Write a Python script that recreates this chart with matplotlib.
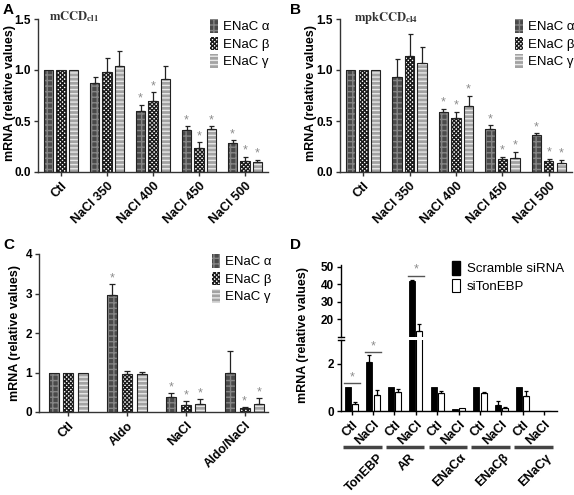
import matplotlib
matplotlib.use("Agg")
import matplotlib.pyplot as plt
from matplotlib.patches import Patch
from matplotlib.lines import Line2D
import numpy as np

plt.rcParams['font.family'] = ['Liberation Sans', 'DejaVu Sans']
plt.rcParams['font.weight'] = 'bold'
plt.rcParams['hatch.linewidth'] = 1.0
plt.rcParams['mathtext.fontset'] = 'stix'

# ---------------- data ----------------
cats_A = ['Ctl', 'NaCl 350', 'NaCl 400', 'NaCl 450', 'NaCl 500']
A_alpha = [1.0, 0.87, 0.60, 0.41, 0.28]
A_alpha_err = [0, 0.06, 0.06, 0.04, 0.03]
A_beta = [1.0, 0.98, 0.70, 0.24, 0.11]
A_beta_err = [0, 0.14, 0.08, 0.05, 0.04]
A_gamma = [1.0, 1.04, 0.91, 0.42, 0.10]
A_gamma_err = [0, 0.15, 0.13, 0.03, 0.02]
A_star_alpha = [0, 0, 1, 1, 1]
A_star_beta = [0, 0, 1, 1, 1]
A_star_gamma = [0, 0, 0, 1, 1]

cats_B = ['Ctl', 'NaCl 350', 'NaCl 400', 'NaCl 450', 'NaCl 500']
B_alpha = [1.0, 0.93, 0.59, 0.42, 0.36]
B_alpha_err = [0, 0.18, 0.03, 0.04, 0.02]
B_beta = [1.0, 1.14, 0.53, 0.13, 0.11]
B_beta_err = [0, 0.21, 0.06, 0.02, 0.02]
B_gamma = [1.0, 1.07, 0.65, 0.14, 0.09]
B_gamma_err = [0, 0.16, 0.10, 0.06, 0.03]
B_star_alpha = [0, 0, 1, 1, 1]
B_star_beta = [0, 0, 1, 1, 1]
B_star_gamma = [0, 0, 1, 1, 1]

cats_C = ['Ctl', 'Aldo', 'NaCl', 'Aldo/NaCl']
C_alpha = [1.0, 2.97, 0.38, 1.0]
C_alpha_err = [0, 0.26, 0.09, 0.55]
C_beta = [1.0, 0.97, 0.17, 0.09]
C_beta_err = [0, 0.08, 0.10, 0.03]
C_gamma = [1.0, 0.97, 0.20, 0.19]
C_gamma_err = [0, 0.04, 0.13, 0.16]
C_star_alpha = [0, 1, 1, 0]
C_star_beta = [0, 0, 1, 1]
C_star_gamma = [0, 0, 1, 1]

genes_D = ['TonEBP', 'AR', 'ENaC\u03b1', 'ENaC\u03b2', 'ENaC\u03b3']
conds_D = ['Ctl', 'NaCl']
D_scramble = [1.0, 2.10, 1.0, 42.0, 1.0, 0.10, 1.0, 0.25, 1.0, 0.02]
D_scramble_err = [0, 0.28, 0, 0.5, 0, 0, 0, 0.17, 0, 0]
D_si = [0.30, 0.70, 0.80, 13.2, 0.78, 0.13, 0.75, 0.13, 0.65, 0.02]
D_si_err = [0.10, 0.18, 0.12, 4.3, 0.07, 0.0, 0.07, 0.03, 0.20, 0]
D_bracket_idx = [0, 1, 3]
D_bracket_y = [1.18, 2.50, 45.0]

series_labels = ['ENaC \u03b1', 'ENaC \u03b2', 'ENaC \u03b3']

# ---------------- styles ----------------
STY = [
    dict(face='#4a4a4a', hatch='+++', hcol='#858585'),
    dict(face='#ffffff', hatch='xxxxxxxx', hcol='#1a1a1a'),
    dict(face='#a3a3a3', hatch='----', hcol='#e8e8e8'),
]
STAR_COL = '#8c8c8c'
FS = 9
FSY = 8.5

W, H = 574, 495
fig = plt.figure(figsize=(W / 100, H / 100), dpi=100)


def px_axes(l, t, r, b):
    return fig.add_axes([l / W, 1 - b / H, (r - l) / W, (b - t) / H])


def style_ax(ax):
    for s in ['top', 'right']:
        ax.spines[s].set_visible(False)
    for s in ['left', 'bottom']:
        ax.spines[s].set_linewidth(1.0)
        ax.spines[s].set_color('#333333')
    ax.tick_params(direction='out', length=3, width=1, color='#333333', pad=2.5)
    ax.tick_params(axis='y', pad=2)


def draw_bar(ax, x, h, w, st):
    ax.bar(x, h, w, color=st['face'], edgecolor=st['hcol'], hatch=st['hatch'], linewidth=0)
    ax.bar(x, h, w, fill=False, edgecolor='#222222', linewidth=0.8)


def set_ylabel_px(ax, xpx, ycenter_px, l, t, r, b):
    ax.set_ylabel('mRNA (relative values)', fontweight='bold', fontsize=9)
    ax.yaxis.set_label_coords((xpx - l) / (r - l), (b - ycenter_px) / (b - t))


def grouped(ax, cats, vals, errs, stars, width, offset, ylim, yticks, yfmt, cap):
    x = np.arange(len(cats))
    for i, (v, e, s) in enumerate(zip(vals, errs, stars)):
        xi = x + (i - 1) * offset
        draw_bar(ax, xi, v, width, STY[i])
        v = np.array(v); e = np.array(e)
        m = e > 0
        ax.errorbar(xi[m], v[m], yerr=[np.zeros(m.sum()), e[m]], fmt='none',
                    ecolor='#222222', elinewidth=0.9, capsize=cap, capthick=0.9)
        for xx, top, flag in zip(xi, v + e, s):
            if flag:
                ax.annotate('*', (xx, top), xytext=(0, 0), textcoords='offset points',
                            ha='center', va='bottom', color=STAR_COL, fontsize=9,
                            fontweight='normal')
    ax.set_ylim(*ylim)
    ax.set_yticks(yticks)
    ax.set_yticklabels([yfmt.format(t) for t in yticks], fontweight='bold', fontsize=FSY)
    ax.set_xticks(x)
    ax.set_xticklabels(cats, rotation=45, ha='right', rotation_mode='anchor',
                       fontweight='bold', fontsize=FS)
    style_ax(ax)


def legend(ax, xpx, ypx):
    handles = [Patch(facecolor=st['face'], edgecolor=st['hcol'], hatch=st['hatch'],
                     linewidth=0) for st in STY]
    return ax.legend(handles, series_labels, loc='upper left',
                     bbox_to_anchor=(xpx / W, 1 - ypx / H), bbox_transform=fig.transFigure,
                     frameon=False, handlelength=0.6, handleheight=1.2, handletextpad=0.4,
                     labelspacing=0.25, borderaxespad=0, borderpad=0,
                     prop={'size': 9.5, 'weight': 'normal'})


# ---------------- Panel A ----------------
bA = (38, 19, 268, 172)
axA = px_axes(*bA)
grouped(axA, cats_A, [A_alpha, A_beta, A_gamma], [A_alpha_err, A_beta_err, A_gamma_err],
        [A_star_alpha, A_star_beta, A_star_gamma], 0.2, 0.27, (0, 1.5),
        [0, 0.5, 1.0, 1.5], '{:.1f}', 1.8)
axA.set_xlim(-0.5, 4.5)
set_ylabel_px(axA, 16, 93, *bA)
legend(axA, 210, 19)
fig.text(49 / W, 1 - 17 / H, r'$\mathrm{mCCD_{cl1}}$', fontsize=9, va='center',
         color='#333333')

# ---------------- Panel B ----------------
bB = (340, 19, 572, 172)
axB = px_axes(*bB)
grouped(axB, cats_B, [B_alpha, B_beta, B_gamma], [B_alpha_err, B_beta_err, B_gamma_err],
        [B_star_alpha, B_star_beta, B_star_gamma], 0.2, 0.27, (0, 1.5),
        [0, 0.5, 1.0, 1.5], '{:.1f}', 1.8)
axB.set_xlim(-0.5, 4.5)
set_ylabel_px(axB, 317, 93, *bB)
legend(axB, 515, 19)
fig.text(354 / W, 1 - 18 / H, r'$\mathrm{mpkCCD_{cl4}}$', fontsize=9, va='center',
         color='#333333')

# ---------------- Panel C ----------------
bC = (39, 254, 268, 412)
axC = px_axes(*bC)
grouped(axC, cats_C, [C_alpha, C_beta, C_gamma], [C_alpha_err, C_beta_err, C_gamma_err],
        [C_star_alpha, C_star_beta, C_star_gamma], 0.17, 0.25, (0, 4),
        [0, 1, 2, 3, 4], '{:d}', 2.5)
axC.set_xlim(-0.5, 3.4)
set_ylabel_px(axC, 21, 333, *bC)
legend(axC, 212, 254)

# ---------------- Panel D ----------------
axDu = px_axes(341, 265, 557, 337)
axDl = px_axes(341, 340, 557, 411)
xD = np.arange(len(D_scramble))
wD, offD = 0.28, 0.17
for ax in (axDu, axDl):
    ax.bar(xD - offD, D_scramble, wD, color='black', edgecolor='black', linewidth=0.6)
    ax.bar(xD + offD, D_si, wD, color='white', edgecolor='black', linewidth=0.8)
    for xs, vals, errs in ((xD - offD, D_scramble, D_scramble_err), (xD + offD, D_si, D_si_err)):
        v = np.array(vals); e = np.array(errs); m = e > 0
        ax.errorbar(xs[m], v[m], yerr=[np.zeros(m.sum()), e[m]], fmt='none',
                    ecolor='black', elinewidth=0.9, capsize=1.6, capthick=0.9)
    ax.set_xlim(-0.5, 9.6)
    for s in ['top', 'right']:
        ax.spines[s].set_visible(False)
    ax.spines['left'].set_linewidth(1.0)
    ax.spines['bottom'].set_linewidth(1.0)
    ax.tick_params(direction='out', length=3, width=1, pad=2.5)
    ax.tick_params(axis='y', pad=2)

axDu.set_ylim(10, 51)
axDu.set_yticks([20, 30, 40, 50])
axDu.set_yticklabels(['20', '30', '40', '50'], fontweight='bold', fontsize=FSY)
axDu.spines['bottom'].set_visible(False)
axDu.tick_params(axis='x', bottom=False, labelbottom=False)
axDl.set_ylim(0, 3.02)
axDl.set_yticks([0, 2])
axDl.set_yticklabels(['0', '2'], fontweight='bold', fontsize=FSY)
axDl.set_xticks(xD)
axDl.set_xticklabels(conds_D * len(genes_D), rotation=45, ha='right',
                     rotation_mode='anchor', fontweight='bold', fontsize=FS)
# break marks
axDu.plot([-0.012, 0.012], [0, 0], transform=axDu.transAxes, color='black', lw=1, clip_on=False)
axDl.plot([-0.012, 0.012], [1, 1], transform=axDl.transAxes, color='black', lw=1, clip_on=False)

# significance brackets
for idx, yb in zip(D_bracket_idx, D_bracket_y):
    ax = axDu if yb > 3 else axDl
    ax.plot([idx - offD - 0.2, idx + offD + 0.2], [yb, yb], color='#555555', lw=1)
    ax.annotate('*', (idx, yb), xytext=(0, 0), textcoords='offset points', ha='center',
                va='bottom', color=STAR_COL, fontsize=9, fontweight='normal')

fig.text(303 / W, 1 - 335 / H, 'mRNA (relative values)', rotation=90, ha='center',
         va='center', fontweight='bold', fontsize=9)

# group lines and labels
xt = axDl.get_xaxis_transform()
for g, name in enumerate(genes_D):
    c0, c1 = 2 * g, 2 * g + 1
    axDl.add_line(Line2D([c0 - 0.4, c1 + 0.4], [-0.507, -0.507], transform=xt,
                         color='#444444', lw=2.5, solid_capstyle='butt', clip_on=False))
    axDl.text((c0 + c1) / 2 + 0.1, -0.57, name, rotation=45, ha='center', va='top',
              transform=xt, fontsize=9, fontweight='bold')

hD = [Patch(facecolor='black', edgecolor='black'),
      Patch(facecolor='white', edgecolor='black', linewidth=0.8)]
axDu.legend(hD, ['Scramble siRNA', 'siTonEBP'], loc='upper left',
            bbox_to_anchor=(452 / W, 1 - 261 / H), bbox_transform=fig.transFigure,
            frameon=False, handlelength=0.6, handleheight=1.2, handletextpad=0.5,
            labelspacing=0.25, borderaxespad=0, borderpad=0,
            prop={'size': 9.5, 'weight': 'normal'})

# panel letters
for letter, (xp, yp) in zip('ABCD', [(3, 3), (290, 3), (3, 238), (290, 238)]):
    fig.text(xp / W, 1 - yp / H, letter, fontsize=11, fontweight='bold', va='top', ha='left')

fig.savefig('out.png', dpi=100)
